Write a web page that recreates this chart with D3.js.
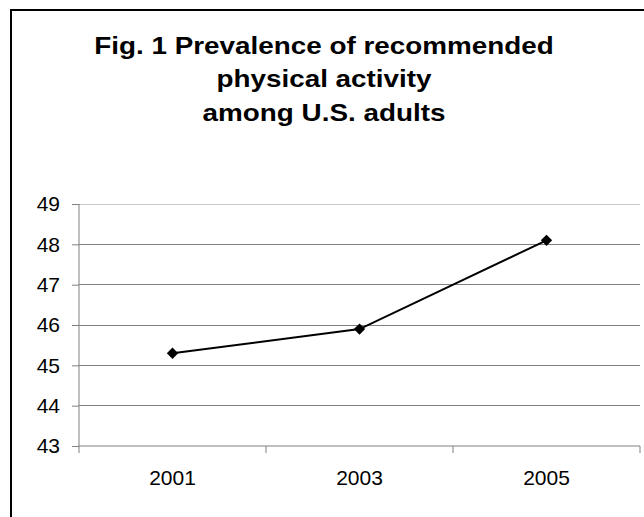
<!DOCTYPE html>
<html><head><meta charset="utf-8">
<script src="https://cdn.jsdelivr.net/npm/d3@7"></script>
<style>body{margin:0;background:#fff}svg{display:block}</style>
</head><body>
<script>
const titleLines = ["Fig. 1 Prevalence of recommended", "physical activity", "among U.S. adults"];
const categories = ["2001", "2003", "2005"];
const values = [45.3, 45.9, 48.1];
const yTicks = [43, 44, 45, 46, 47, 48, 49];

const W = 644, H = 517;
const svg = d3.select("body").append("svg").attr("width", W).attr("height", H);
svg.append("rect").attr("width", W).attr("height", H).attr("fill", "#fff");
// outer chart border (extends past the window)
svg.append("rect").attr("x", 11).attr("y", 10).attr("width", 700).attr("height", 600)
  .attr("fill", "none").attr("stroke", "#000").attr("stroke-width", 2);

const font = "'Liberation Sans', Arial, sans-serif";
svg.append("g").attr("transform", "translate(324,0) scale(1.16,1)")
  .append("text").attr("text-anchor", "middle").attr("font-family", font)
  .attr("font-weight", "bold").attr("font-size", 24).attr("fill", "#000")
  .selectAll("tspan").data(titleLines).join("tspan")
  .attr("x", 0).attr("y", (d, i) => 54 + i * 33.5).text(d => d);

const x0 = 79, x1 = 640, yTop = 204, yBot = 446;
const x = d3.scaleBand().domain(categories).range([x0, x1]);
const y = d3.scaleLinear().domain([43, 49]).range([yBot, yTop]);

// gridlines
svg.append("g").selectAll("line").data(yTicks.filter(t => t !== 43)).join("line")
  .attr("x1", x0).attr("x2", x1).attr("y1", d => y(d)).attr("y2", d => y(d))
  .attr("stroke", d => d === 49 ? "#c8c8c8" : "#808080").attr("stroke-width", 1)
  .attr("shape-rendering", "crispEdges");

// y axis
const yAxis = svg.append("g").attr("transform", `translate(${x0},0)`)
  .call(d3.axisLeft(y).tickValues(yTicks).tickSize(7).tickPadding(12).tickFormat(d3.format("d")));
yAxis.select(".domain").attr("stroke", "#808080").attr("d", `M0,${yTop}V${yBot}`);
yAxis.selectAll(".tick line").attr("stroke", "#808080");
yAxis.selectAll("text").attr("font-family", font).attr("font-size", 21).attr("fill", "#000");

// x axis
const xAxis = svg.append("g").attr("transform", `translate(0,${yBot})`)
  .call(d3.axisBottom(x).tickSize(0).tickPadding(24));
xAxis.select(".domain").attr("stroke", "#808080").attr("d", `M${x0},0H${x1}`);
xAxis.selectAll("text").attr("font-family", font).attr("font-size", 21).attr("fill", "#000");
const bounds = categories.map(c => x(c)).concat([x(categories[categories.length - 1]) + x.bandwidth()]);
xAxis.append("g").selectAll("line").data(bounds).join("line")
  .attr("x1", d => d).attr("x2", d => d).attr("y1", 0).attr("y2", 7)
  .attr("stroke", "#808080");

// line
const pts = categories.map((c, i) => [x(c) + x.bandwidth() / 2, y(values[i])]);
svg.append("path").attr("d", d3.line()(pts)).attr("fill", "none")
  .attr("stroke", "#000").attr("stroke-width", 2);
svg.append("g").selectAll("path").data(pts).join("path")
  .attr("transform", d => `translate(${d[0]},${d[1]}) rotate(45)`)
  .attr("d", "M-4,-4H4V4H-4Z").attr("fill", "#000");
</script>
</body></html>
